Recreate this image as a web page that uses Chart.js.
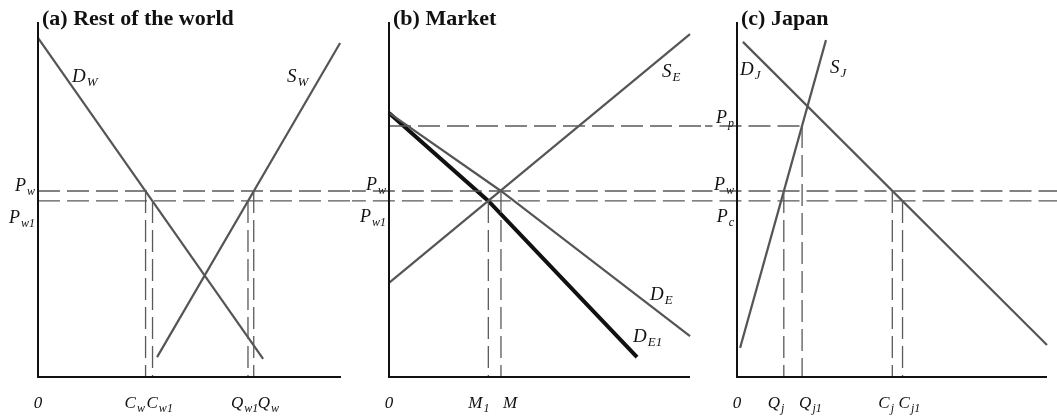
<!DOCTYPE html>
<html>
<head>
<meta charset="utf-8">
<script src="https://cdn.jsdelivr.net/npm/chart.js@4.4.1/dist/chart.umd.min.js"></script>
<style>
  html, body { margin: 0; padding: 0; background: #fff; }
  #wrap { position: relative; width: 1057px; height: 418px; overflow: hidden; }
  #wrap canvas { position: absolute; top: 0; }
</style>
</head>
<body>
<div id="wrap">
  <canvas id="world" width="352" height="418" style="left:0"></canvas>
  <canvas id="market" width="353" height="418" style="left:352px"></canvas>
  <canvas id="japan" width="352" height="418" style="left:705px"></canvas>
</div>
<script>
// price levels, shared by all three panels (vertical scale 0-100)
const pw = 52.4;
const pw1 = 49.6; // shown as P_c in panel (c)
const pp = 70.7;

// (a) rest of the world
const worldDemandX = [0, 74.3];
const worldDemandY = [95.5, 5.1];
const worldSupplyX = [39.3, 99.7];
const worldSupplyY = [5.6, 94.1];
const worldQty = [0, 35.5, 37.8, 69.3, 71.2];
const worldQtyPrice = [null, pw, pw1, pw1, pw];
const worldQtyLabels = ['0', 'C_w', 'C_w1', 'Q_w1', 'Q_w'];
const worldPrices = [pw, pw1];
const worldPriceLabels = ['P_w', 'P_w1'];

// (b) market
const exportSupplyX = [0, 100];
const exportSupplyY = [26.5, 96.6];
const exportDemandX = [0, 37.2, 100];
const exportDemandY = [74.4, 52.4, 11.5];
const exportDemand1X = [0, 33.0, 82.4];
const exportDemand1Y = [74.4, 49.6, 5.6];
const marketQty = [0, 33.0, 37.2];
const marketQtyPrice = [null, pw1, pw];
const marketQtyLabels = ['0', 'M_1', 'M'];
const marketPrices = [pw, pw1];
const marketPriceLabels = ['P_w', 'P_w1'];

// (c) japan
const japanDemandX = [1.9, 100];
const japanDemandY = [94.4, 9.0];
const japanSupplyX = [1.0, 28.7];
const japanSupplyY = [8.2, 94.9];
const japanQty = [0, 15.1, 21.0, 50.1, 53.4];
const japanQtyPrice = [null, pw, pp, pw, pw1];
const japanQtyLabels = ['0', 'Q_j', 'Q_j1', 'C_j', 'C_j1'];
const japanPrices = [pp, pw, pw1];
const japanPriceLabels = ['P_p', 'P_w', 'P_c'];

const LINE = '#555';
const DASH = '#5a5a5a';
const SERIF = '"Liberation Serif", "DejaVu Serif", serif';

const pts = (xs, ys) => xs.map((x, i) => ({ x, y: ys[i] }));

function curve(xs, ys, width = 2.2, color = LINE) {
  return {
    data: pts(xs, ys), showLine: true, borderColor: color, borderWidth: width,
    pointRadius: 0, clip: false, tension: 0,
  };
}

function dashed(data) {
  return {
    data, showLine: true, borderColor: DASH, borderWidth: 1.3, borderDash: [22, 7],
    pointRadius: 0, clip: false,
  };
}

const hGuide = (price, from, to) => dashed([{ x: from, y: price }, { x: to, y: price }]);

const vGuides = (qty, price) =>
  qty.map((q, i) => (price[i] == null ? null : dashed([{ x: q, y: price[i] }, { x: q, y: 0 }])))
    .filter(Boolean);

// italic letter with an optional subscript, "C_w1" -> C + w1
function drawSym(ctx, text, x, y, size, align = 'left') {
  const [main, sub] = text.split('_');
  const subSize = Math.round(size * 0.68);
  ctx.font = `italic ${size}px ${SERIF}`;
  const w1 = ctx.measureText(main).width;
  let w2 = 0;
  if (sub) {
    ctx.font = `italic ${subSize}px ${SERIF}`;
    w2 = ctx.measureText(sub).width + 1;
  }
  const left = align === 'right' ? x - w1 - w2 : align === 'center' ? x - (w1 + w2) / 2 : x;
  ctx.font = `italic ${size}px ${SERIF}`;
  ctx.fillText(main, left, y);
  if (sub) {
    ctx.font = `italic ${subSize}px ${SERIF}`;
    ctx.fillText(sub, left + w1 + 1, y + size * 0.22);
  }
}

const diagram = {
  id: 'diagram',
  afterDatasetsDraw(chart, args, opts) {
    const { ctx, scales: { x, y } } = chart;
    ctx.save();
    ctx.strokeStyle = '#111';
    ctx.lineWidth = 2;
    ctx.beginPath();
    ctx.moveTo(x.getPixelForValue(0), y.getPixelForValue(100));
    ctx.lineTo(x.getPixelForValue(0), y.getPixelForValue(0));
    ctx.lineTo(x.getPixelForValue(100), y.getPixelForValue(0));
    ctx.stroke();

    ctx.fillStyle = '#111';
    ctx.textBaseline = 'alphabetic';
    ctx.textAlign = 'left';

    // panel title
    ctx.font = `bold 22px ${SERIF}`;
    ctx.fillText(opts.title, x.getPixelForValue(0) + 4, y.getPixelForValue(100) + 3);

    // curve names
    opts.curveLabels.forEach(l => {
      drawSym(ctx, l.text, x.getPixelForValue(l.x), y.getPixelForValue(l.y), 19);
    });

    // quantity labels under the axis
    const base = y.getPixelForValue(0) + 31;
    opts.qty.forEach((q, i) => {
      const px = x.getPixelForValue(q);
      if (opts.qtyLabels[i] === '0') drawSym(ctx, '0', px, base, 17, 'center');
      else drawSym(ctx, opts.qtyLabels[i], px + opts.qtyDx[i], base, 17);
    });

    // price labels left of the axis
    const ax = x.getPixelForValue(0) - 3;
    opts.prices.forEach((p, i) => {
      drawSym(ctx, opts.priceLabels[i], ax, y.getPixelForValue(p) + opts.priceDy[i], 18, 'right');
    });
    ctx.restore();
  },
};

function makeChart(id, datasets, padding, opts) {
  return new Chart(document.getElementById(id), {
    type: 'scatter',
    data: { datasets },
    options: {
      responsive: false,
      animation: false,
      devicePixelRatio: 1,
      layout: { padding },
      plugins: { legend: { display: false }, tooltip: { enabled: false }, diagram: opts },
      scales: {
        x: { type: 'linear', min: 0, max: 100, display: false },
        y: { type: 'linear', min: 0, max: 100, display: false },
      },
    },
    plugins: [diagram],
  });
}

Chart.defaults.font.family = SERIF;

makeChart('world', [
  hGuide(pw, 0, 115),
  hGuide(pw1, 0, 115),
  ...vGuides(worldQty, worldQtyPrice),
  curve(worldDemandX, worldDemandY),
  curve(worldSupplyX, worldSupplyY),
], { left: 38, right: 11, top: 22, bottom: 41 }, {
  title: '(a) Rest of the world',
  curveLabels: [{ text: 'D_W', x: 11.2, y: 83.1 }, { text: 'S_W', x: 82.2, y: 83.1 }],
  qty: worldQty, qtyLabels: worldQtyLabels, qtyDx: [0, -21, -6, -17, 4],
  prices: worldPrices, priceLabels: worldPriceLabels, priceDy: [0, 22],
});

makeChart('market', [
  hGuide(pw, -15, 115),
  hGuide(pw1, -15, 115),
  hGuide(pp, 0, 115),
  ...vGuides(marketQty, marketQtyPrice),
  curve(exportSupplyX, exportSupplyY),
  curve(exportDemandX, exportDemandY),
  curve(exportDemand1X, exportDemand1Y, 4, '#111'),
], { left: 37, right: 15, top: 22, bottom: 41 }, {
  title: '(b) Market',
  curveLabels: [
    { text: 'S_E', x: 90.7, y: 84.5 },
    { text: 'D_E', x: 86.7, y: 21.7 },
    { text: 'D_E1', x: 81.1, y: 9.9 },
  ],
  qty: marketQty, qtyLabels: marketQtyLabels, qtyDx: [0, -20, 2],
  prices: marketPrices, priceLabels: marketPriceLabels, priceDy: [-1, 21],
});

makeChart('japan', [
  hGuide(pw, -15, 115),
  hGuide(pw1, -15, 115),
  hGuide(pp, -15, japanQty[2]),
  ...vGuides(japanQty, japanQtyPrice),
  curve(japanDemandX, japanDemandY),
  curve(japanSupplyX, japanSupplyY),
], { left: 32, right: 10, top: 22, bottom: 41 }, {
  title: '(c) Japan',
  curveLabels: [{ text: 'D_J', x: 1.0, y: 85.1 }, { text: 'S_J', x: 30.0, y: 85.6 }],
  qty: japanQty, qtyLabels: japanQtyLabels, qtyDx: [0, -16, -3, -14, -4],
  prices: japanPrices, priceLabels: japanPriceLabels, priceDy: [-3, -1, 21],
});
</script>
</body>
</html>
